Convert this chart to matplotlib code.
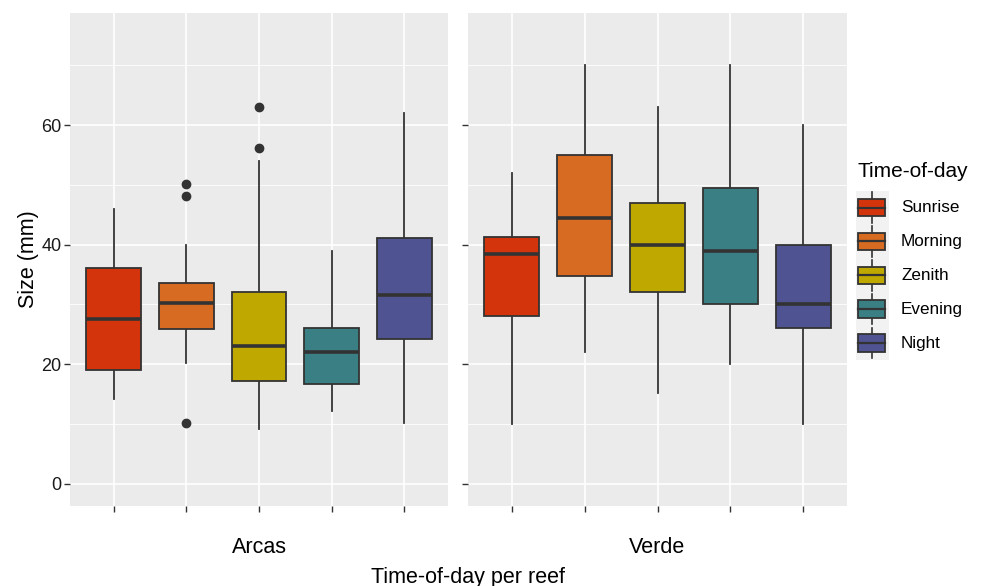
import matplotlib
matplotlib.use("Agg")
import matplotlib.pyplot as plt
from matplotlib.patches import Rectangle

plt.rcParams['font.family'] = ['Liberation Sans', 'DejaVu Sans']

reefs = ["Arcas", "Verde"]
times = ["Sunrise", "Morning", "Zenith", "Evening", "Night"]
colors = ["#D4340C", "#D66B21", "#BFA900", "#3A7F83", "#4F5391"]

# Arcas
arcas_q1 = [19.0, 25.9, 17.2, 16.6, 24.2]
arcas_med = [27.6, 30.2, 23.1, 22.0, 31.6]
arcas_q3 = [36.1, 33.6, 32.1, 26.1, 41.1]
arcas_lo = [14.2, 20.1, 9.1, 12.2, 10.1]
arcas_hi = [46.0, 40.0, 54.0, 39.0, 62.0]
arcas_out = [[], [50.1, 48.1, 10.1], [63.1, 56.2], [], []]

# Verde
verde_q1 = [28.0, 34.8, 32.0, 30.0, 26.0]
verde_med = [38.5, 44.5, 40.0, 39.0, 30.0]
verde_q3 = [41.3, 55.0, 47.0, 49.5, 40.0]
verde_lo = [10.0, 22.0, 15.2, 20.0, 10.0]
verde_hi = [52.0, 70.0, 63.0, 70.0, 60.0]
verde_out = [[], [], [], [], []]

y_ticks = [0, 20, 40, 60]
y_minor = [10, 30, 50, 70]

W, H = 983, 586
fig = plt.figure(figsize=(W / 100, H / 100), dpi=100)

panel_bg = "#EBEBEB"
dark = "#333333"

def px_axes(x0, y0, x1, y1):
    return fig.add_axes([x0 / W, 1 - y1 / H, (x1 - x0) / W, (y1 - y0) / H])

ax1 = px_axes(70, 13, 448, 506)
ax2 = px_axes(468, 13, 847, 506)

datasets = [
    (arcas_q1, arcas_med, arcas_q3, arcas_lo, arcas_hi, arcas_out),
    (verde_q1, verde_med, verde_q3, verde_lo, verde_hi, verde_out),
]

for ax, reef, data in zip([ax1, ax2], reefs, datasets):
    q1s, meds, q3s, los, his, outs = data
    ax.set_facecolor(panel_bg)
    for s in ax.spines.values():
        s.set_visible(False)
    ax.set_xlim(0.4, 5.6)
    ax.set_ylim(-3.75, 78.75)
    ax.set_yticks(y_ticks)
    ax.set_yticks(y_minor, minor=True)
    ax.set_xticks(range(1, 6))
    ax.grid(True, which='major', color='white', linewidth=1.2, zorder=0)
    ax.grid(True, which='minor', axis='y', color='white', linewidth=0.6, zorder=0)
    ax.set_axisbelow(True)
    ax.tick_params(axis='both', which='major', length=4, width=1.0, color=dark,
                   labelsize=13, labelcolor='#1a1a1a', pad=2)
    ax.tick_params(axis='both', which='minor', length=0)
    ax.set_xticklabels([])
    stats = []
    for i in range(5):
        stats.append(dict(q1=q1s[i], med=meds[i], q3=q3s[i], whislo=los[i],
                          whishi=his[i], fliers=outs[i], label=times[i]))
    bp = ax.bxp(stats, positions=range(1, 6), widths=0.75, patch_artist=True,
                showcaps=False, manage_ticks=False,
                boxprops=dict(edgecolor=dark, linewidth=1.3),
                whiskerprops=dict(color=dark, linewidth=1.3),
                medianprops=dict(color=dark, linewidth=2.6),
                flierprops=dict(marker='o', markerfacecolor=dark, markeredgecolor=dark,
                                markersize=6, linestyle='none'))
    for patch, c in zip(bp['boxes'], colors):
        patch.set_facecolor(c)
    for w in bp['whiskers']:
        w.set_zorder(1.5)
    ax.text(0.5, -0.085, reef, transform=ax.transAxes, ha='center', va='center',
            fontsize=15.5, color='black')

ax2.set_yticklabels([])
ax1.set_ylabel("Size (mm)", fontsize=15.5, labelpad=2)

fig.text(468 / W, 1 - 577 / H, "Time-of-day per reef", ha='center', va='center',
         fontsize=15.5)

# legend
lax = px_axes(856, 190.7, 889, 360)
lax.set_xlim(0, 1)
lax.set_ylim(5, 0)
lax.set_facecolor("#F2F2F2")
lax.set_xticks([])
lax.set_yticks([])
for s in lax.spines.values():
    s.set_visible(False)
for i, (t, c) in enumerate(zip(times, colors)):
    yc = i + 0.5
    lax.plot([0.49, 0.49], [i + 0.05, i + 0.95], color=dark, lw=1.2, zorder=1)
    lax.add_patch(Rectangle((0.07, yc - 0.26), 0.82, 0.52, facecolor=c,
                            edgecolor=dark, lw=1.3, zorder=2))
    lax.plot([0.07, 0.89], [yc, yc], color=dark, lw=1.6, zorder=3)
    fig.text(901 / W, 1 - (190.7 + 33.86 * yc) / H, t, ha='left', va='center',
             fontsize=12.3)
fig.text(858 / W, 1 - 172 / H, "Time-of-day", ha='left', va='center', fontsize=15)

fig.savefig("out.png", dpi=100, facecolor='white')
